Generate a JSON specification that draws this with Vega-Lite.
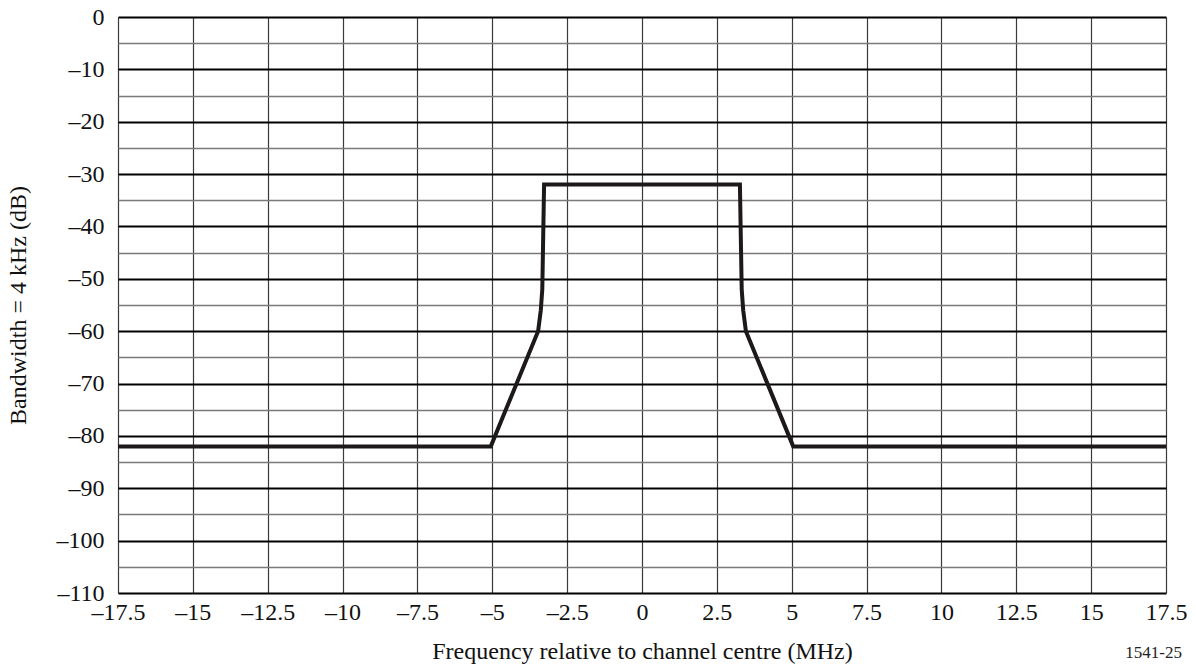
{
  "$schema": "https://vega.github.io/schema/vega-lite/v6.json",
  "width": 1048,
  "height": 576,
  "autosize": {"type": "none"},
  "padding": {"left": 118, "top": 17, "right": 30, "bottom": 78},
  "background": "white",
  "config": {
    "view": {"stroke": null},
    "font": "Liberation Serif"
  },
  "title": {
    "text": "1541-25",
    "orient": "bottom",
    "anchor": "end",
    "frame": "bounds",
    "font": "Liberation Serif",
    "fontSize": 17,
    "fontWeight": "normal",
    "color": "#222",
    "offset": -18,
    "dx": -5
  },
  "data": {
    "values": [
      {"f": -17.5, "db": -82},
      {"f": -5.05, "db": -82},
      {"f": -3.47, "db": -60},
      {"f": -3.38, "db": -56},
      {"f": -3.33, "db": -52},
      {"f": -3.27, "db": -32},
      {"f": 3.27, "db": -32},
      {"f": 3.33, "db": -52},
      {"f": 3.38, "db": -56},
      {"f": 3.47, "db": -60},
      {"f": 5.05, "db": -82},
      {"f": 17.5, "db": -82}
    ]
  },
  "mark": {"type": "line", "color": "#1d1919", "strokeWidth": 4, "strokeJoin": "miter", "clip": false},
  "encoding": {
    "x": {
      "field": "f",
      "type": "quantitative",
      "scale": {"domain": [-17.5, 17.5], "nice": false, "zero": false},
      "axis": {
        "values": [-17.5, -15, -12.5, -10, -7.5, -5, -2.5, 0, 2.5, 5, 7.5, 10, 12.5, 15, 17.5],
        "labelExpr": "(datum.value < 0 ? '–' : '') + abs(datum.value)",
        "grid": true,
        "gridColor": "#3a3a3a",
        "gridWidth": 1.2,
        "gridOpacity": 1,
        "domain": false,
        "ticks": false,
        "labelPadding": 7,
        "labelFont": "Liberation Serif",
        "labelFontSize": 24,
        "labelColor": "#111",
        "labelFlush": false,
        "labelOverlap": false,
        "title": "Frequency relative to channel centre (MHz)",
        "titleFont": "Liberation Serif",
        "titleFontSize": 24,
        "titleFontWeight": "normal",
        "titleColor": "#111",
        "titlePadding": 15
      }
    },
    "y": {
      "field": "db",
      "type": "quantitative",
      "scale": {"domain": [-110, 0], "nice": false, "zero": false},
      "axis": {
        "values": [-110, -105, -100, -95, -90, -85, -80, -75, -70, -65, -60, -55, -50, -45, -40, -35, -30, -25, -20, -15, -10, -5, 0],
        "labelExpr": "datum.value % 10 == 0 ? (datum.value < 0 ? '–' : '') + abs(datum.value) : ''",
        "grid": true,
        "gridColor": {"condition": {"test": "datum.value % 10 == 0", "value": "#000000"}, "value": "#7a7a7a"},
        "gridWidth": {"condition": {"test": "datum.value % 10 == 0", "value": 2}, "value": 1.3},
        "gridOpacity": 1,
        "domain": false,
        "ticks": false,
        "labelPadding": 14,
        "labelFont": "Liberation Serif",
        "labelFontSize": 24,
        "labelColor": "#111",
        "labelFlush": false,
        "labelOverlap": false,
        "title": "Bandwidth = 4 kHz (dB)",
        "titleFont": "Liberation Serif",
        "titleFontSize": 24,
        "titleFontWeight": "normal",
        "titleColor": "#111",
        "titlePadding": 26
      }
    }
  }
}
